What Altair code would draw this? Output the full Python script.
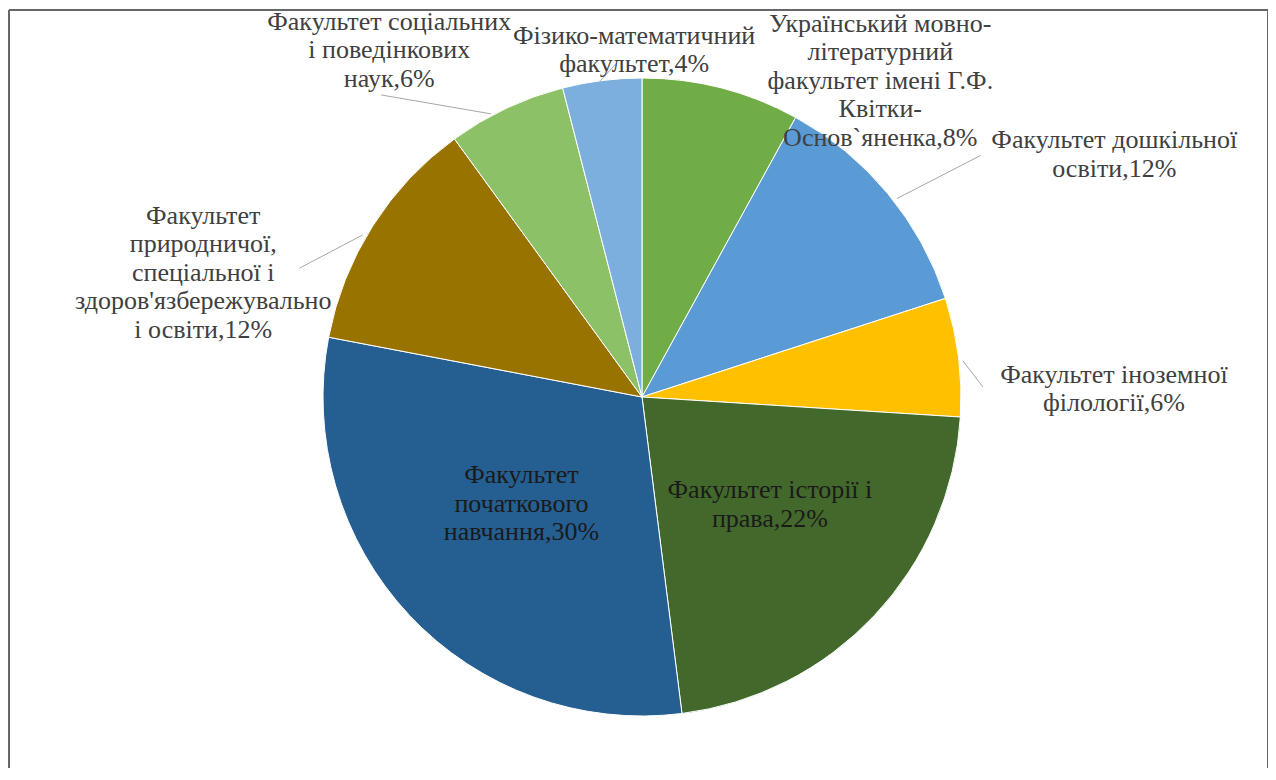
import altair as alt
import pandas as pd

# ---- data -------------------------------------------------------------
faculties = [
    "Український мовно-літературний факультет імені Г.Ф. Квітки-Основ`яненка",
    "Факультет дошкільної освіти",
    "Факультет іноземної філології",
    "Факультет історії і права",
    "Факультет початкового навчання",
    "Факультет природничої, спеціальної і здоров'язбережувальної освіти",
    "Факультет соціальних і поведінкових наук",
    "Фізико-математичний факультет",
]
shares = [8, 12, 6, 22, 30, 12, 6, 4]
colors = ["#70AD47", "#5B9BD5", "#FFC000", "#43682B",
          "#255E91", "#997300", "#8CC168", "#7CAFDD"]
label_lines = [
    ["Український мовно-", "літературний", "факультет імені Г.Ф.", "Квітки-", "Основ`яненка"],
    ["Факультет дошкільної", "освіти"],
    ["Факультет іноземної", "філології"],
    ["Факультет історії і", "права"],
    ["Факультет", "початкового", "навчання"],
    ["Факультет", "природничої,", "спеціальної і", "здоров'язбережувально", "і освіти"],
    ["Факультет соціальних", "і поведінкових", "наук"],
    ["Фізико-математичний", "факультет"],
]

# ---- layout (label placement relative to slice mid-angle) ---------------
W, H = 1260, 760
CX, CY, R = 633, 387, 319
LH = 28.5
FS = 26
label_radius = [396, 531, 472, 167, 161, 456, 429, 347]
label_shift = [22.6, 12.4, 6.2, -3.2, 1.7, -16.6, -10.9, 5.9]
# leader lines: (r_start, angle_start, r_end, angle_end)
leaders = [
    (323, 52.1, 416, 54.5),
    (323, 83.6, 341, 88.3),
    (323, 300.1, 366, 290.6),
    (321, 331.9, 399, 319.2),
    (319, 352.5, 334, 355.5),
]

FONT = "Liberation Serif"

df = pd.DataFrame({
    "idx": list(range(len(faculties))),
    "faculty": faculties,
    "share": shares,
    "lines": [l[:-1] + [f"{l[-1]},{s}%"] for l, s in zip(label_lines, shares)],
    "r": label_radius,
    "shift": label_shift,
})

base = alt.Chart(df)

pie = base.mark_arc(stroke="white", strokeWidth=1).encode(
    theta=alt.Theta("share:Q", stack=True),
    order=alt.Order("idx:Q"),
    color=alt.Color("faculty:N", scale=alt.Scale(domain=faculties, range=colors), legend=None),
    x=alt.value(CX),
    y=alt.value(CY),
    radius=alt.value(R),
)

label_base = base.transform_joinaggregate(total="sum(share)").transform_window(
    cum="sum(share)", sort=[alt.SortField("idx")]
).transform_calculate(
    ang="((datum.cum - datum.share/2) / datum.total) * 360 + datum.shift",
    nl="length(datum.lines)",
).transform_calculate(
    lx=f"{CX} + datum.r * sin(datum.ang * PI / 180)",
    cy0=f"{CY} - datum.r * cos(datum.ang * PI / 180)",
).transform_flatten(["lines"], as_=["line"]).transform_window(
    ln="row_number()", groupby=["idx"]
).transform_calculate(
    ly=f"datum.cy0 + (datum.ln - 1) * {LH} - (datum.nl - 1) * {LH} / 2",
)

labels_out = label_base.transform_filter("datum.r >= 250").mark_text(
    font=FONT, fontSize=FS, align="center", baseline="middle", color="#404040"
).encode(
    x=alt.X("lx:Q", scale=None, axis=None),
    y=alt.Y("ly:Q", scale=None, axis=None),
    text=alt.Text("line:N"),
)
labels_in = label_base.transform_filter("datum.r < 250").mark_text(
    font=FONT, fontSize=FS, align="center", baseline="middle", color="#1a1a1a"
).encode(
    x=alt.X("lx:Q", scale=None, axis=None),
    y=alt.Y("ly:Q", scale=None, axis=None),
    text=alt.Text("line:N"),
)

lead_rows = []
for i, (r1, a1, r2, a2) in enumerate(leaders):
    lead_rows.append({"lid": i, "pt": 0, "rr": r1, "aa": a1})
    lead_rows.append({"lid": i, "pt": 1, "rr": r2, "aa": a2})
lead_df = pd.DataFrame(lead_rows)

lead = alt.Chart(lead_df).transform_calculate(
    px=f"{CX} + datum.rr * sin(datum.aa * PI / 180)",
    py=f"{CY} - datum.rr * cos(datum.aa * PI / 180)",
).mark_line(color="#a6a6a6", strokeWidth=1).encode(
    x=alt.X("px:Q", scale=None, axis=None),
    y=alt.Y("py:Q", scale=None, axis=None),
    detail="lid:N",
    order="pt:Q",
)

frame_df = pd.DataFrame({"k": [0]})
frame_left = alt.Chart(frame_df).mark_rule(color="#666666", strokeWidth=2).encode(
    x=alt.value(0), y=alt.value(0), y2=alt.value(H + 20))
frame_top = alt.Chart(frame_df).mark_rule(color="#666666", strokeWidth=2).encode(
    x=alt.value(0), x2=alt.value(W), y=alt.value(0))
frame_right = alt.Chart(frame_df).mark_rule(color="#666666", strokeWidth=2).encode(
    x=alt.value(W - 1), y=alt.value(0), y2=alt.value(H + 20))

chart = alt.layer(pie, lead, labels_out, labels_in, frame_left, frame_top, frame_right).properties(
    width=W, height=H,
    autosize=alt.AutoSizeParams(type="fit", contains="padding"),
    padding=0,
    background="white",
).configure_view(stroke=None)

chart.save("out.html", embed_options={"renderer": "svg", "actions": False})
